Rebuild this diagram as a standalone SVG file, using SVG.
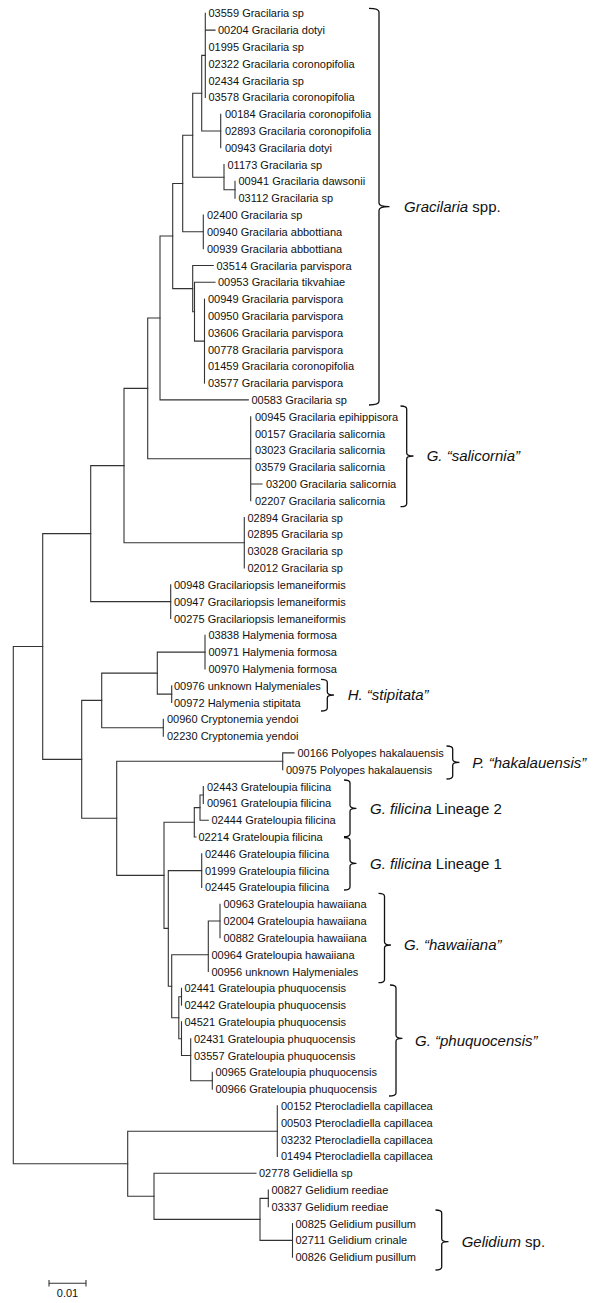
<svg xmlns="http://www.w3.org/2000/svg" width="600" height="1303" viewBox="0 0 600 1303">
<style>
.e{fill:none;stroke:#333;stroke-width:1.1;stroke-linecap:square}
.br{fill:none;stroke:#111;stroke-width:1.3;stroke-linejoin:round}
text{font-family:"Liberation Sans",Arial,sans-serif;fill:#111}
.t{font-size:11px}
.lab{font-size:15px}
.i{font-style:italic}
</style>
<rect width="600" height="1303" fill="#fff"/>
<g id="connectors" class="e">
<path d="M13.3 646.5V1163.8M13.3 646.5H42.7M13.3 1163.8H127.7"/>
<path d="M42.7 533.6V759.4M42.7 533.6H90.7M42.7 759.4H81.7"/>
<path d="M90.7 465.6V601.6M90.7 465.6H124M90.7 601.6H170.7"/>
<path d="M124 388.4V542.8M124 388.4H147.7M124 542.8H244.3"/>
<path d="M147.7 318V458.8M147.7 318H160M147.7 458.8H250.7"/>
<path d="M160 236V399.9M160 236H172.7M160 399.9H248.3"/>
<path d="M172.7 183.5V288.6M172.7 183.5H182.7M172.7 288.6H192.7"/>
<path d="M182.7 135.2V231.8M182.7 135.2H192.7M182.7 231.8H203.3"/>
<path d="M192.7 93.2V177.2M192.7 93.2H201.7M192.7 177.2H224"/>
<path d="M201.7 55.4V131M201.7 55.4H205.3M201.7 131H220.7"/>
<path d="M205.3 13.3V97.4M205.3 30.1H215"/>
<path d="M220.7 114.2V147.8"/>
<path d="M224 164.6V189.8M224 189.8H235"/>
<path d="M235 181.4V198.2"/>
<path d="M203.3 215V248.6"/>
<path d="M192.7 265.5V311.7M192.7 265.5H213.3M192.7 311.7H194.5"/>
<path d="M194.5 282.3V341.1M194.5 282.3H215M194.5 341.1H204.5"/>
<path d="M204.5 299.1V383.1"/>
<path d="M250.7 416.7V500.8M250.7 484H262"/>
<path d="M244.3 517.6V568"/>
<path d="M170.7 584.8V618.5"/>
<path d="M81.7 700.4V818.3M81.7 700.4H101.7M81.7 818.3H116.7"/>
<path d="M101.7 673.1V727.7M101.7 673.1H157.3M101.7 727.7H163.3"/>
<path d="M157.3 652.1V694.1M157.3 652.1H205M157.3 694.1H171.7"/>
<path d="M205 635.3V668.9"/>
<path d="M171.7 685.7V702.5"/>
<path d="M163.3 719.3V736.1"/>
<path d="M116.7 761.3V875.4M116.7 761.3H282.7M116.7 875.4H164"/>
<path d="M282.7 752.9V769.7M282.7 752.9H294"/>
<path d="M164 822.3V928.4M164 822.3H194.3M164 928.4H168.3"/>
<path d="M194.3 807.6V837M194.3 807.6H200M194.3 837H196"/>
<path d="M200 795V820.2M200 795H203.3M200 820.2H208.3"/>
<path d="M203.3 786.6V803.4"/>
<path d="M168.3 870.6V986.2M168.3 870.6H201.7M168.3 986.2H171.7"/>
<path d="M201.7 853.8V887.4"/>
<path d="M171.7 954.7V1017.7M171.7 954.7H208.3M171.7 1017.7H178.8"/>
<path d="M208.3 921V971.5M208.3 921H220"/>
<path d="M220 904.2V937.8"/>
<path d="M178.8 996.7V1038.7M178.8 996.7H181.5M178.8 1038.7H181.5"/>
<path d="M181.5 988.3V1005.1"/>
<path d="M181.5 1021.9V1055.5M181.5 1055.5H190.7"/>
<path d="M190.7 1038.7V1080.7M190.7 1080.7H212.3"/>
<path d="M212.3 1072.3V1089.1"/>
<path d="M127.7 1131.2V1196.3M127.7 1131.2H277.3M127.7 1196.3H154"/>
<path d="M277.3 1105.9V1156.4"/>
<path d="M154 1173.2V1219.4M154 1173.2H256M154 1219.4H260"/>
<path d="M260 1198.4V1240.4M260 1198.4H268.3M260 1240.4H292.5"/>
<path d="M268.3 1190V1206.8"/>
<path d="M292.5 1223.6V1257.2"/>
</g>
<g id="leaves" class="t">
<g id="n03559"><text x="208.5" y="17.3">03559 Gracilaria sp</text></g>
<g id="n00204"><text x="218" y="34.1">00204 Gracilaria dotyi</text></g>
<g id="n01995"><text x="208.5" y="50.9">01995 Gracilaria sp</text></g>
<g id="n02322"><text x="208.5" y="67.7">02322 Gracilaria coronopifolia</text></g>
<g id="n02434"><text x="208.5" y="84.5">02434 Gracilaria sp</text></g>
<g id="n03578"><text x="208.5" y="101.4">03578 Gracilaria coronopifolia</text></g>
<g id="n00184"><text x="225" y="118.2">00184 Gracilaria coronopifolia</text></g>
<g id="n02893"><text x="225" y="135">02893 Gracilaria coronopifolia</text></g>
<g id="n00943"><text x="225" y="151.8">00943 Gracilaria dotyi</text></g>
<g id="n01173"><text x="227.5" y="168.6">01173 Gracilaria sp</text></g>
<g id="n00941"><text x="238.5" y="185.4">00941 Gracilaria dawsonii</text></g>
<g id="n03112"><text x="238.5" y="202.2">03112 Gracilaria sp</text></g>
<g id="n02400"><text x="207" y="219">02400 Gracilaria sp</text></g>
<g id="n00940"><text x="207" y="235.8">00940 Gracilaria abbottiana</text></g>
<g id="n00939"><text x="207" y="252.6">00939 Gracilaria abbottiana</text></g>
<g id="n03514"><text x="216.5" y="269.5">03514 Gracilaria parvispora</text></g>
<g id="n00953"><text x="218" y="286.3">00953 Gracilaria tikvahiae</text></g>
<g id="n00949"><text x="208" y="303.1">00949 Gracilaria parvispora</text></g>
<g id="n00950"><text x="208" y="319.9">00950 Gracilaria parvispora</text></g>
<g id="n03606"><text x="208" y="336.7">03606 Gracilaria parvispora</text></g>
<g id="n00778"><text x="208" y="353.5">00778 Gracilaria parvispora</text></g>
<g id="n01459"><text x="208" y="370.3">01459 Gracilaria coronopifolia</text></g>
<g id="n03577"><text x="208" y="387.1">03577 Gracilaria parvispora</text></g>
<g id="n00583"><text x="251.5" y="403.9">00583 Gracilaria sp</text></g>
<g id="n00945"><text x="255" y="420.7">00945 Gracilaria epihippisora</text></g>
<g id="n00157"><text x="255" y="437.5">00157 Gracilaria salicornia</text></g>
<g id="n03023"><text x="255" y="454.4">03023 Gracilaria salicornia</text></g>
<g id="n03579"><text x="255" y="471.2">03579 Gracilaria salicornia</text></g>
<g id="n03200"><text x="266" y="488">03200 Gracilaria salicornia</text></g>
<g id="n02207"><text x="255" y="504.8">02207 Gracilaria salicornia</text></g>
<g id="n02894"><text x="247.5" y="521.6">02894 Gracilaria sp</text></g>
<g id="n02895"><text x="247.5" y="538.4">02895 Gracilaria sp</text></g>
<g id="n03028"><text x="247.5" y="555.2">03028 Gracilaria sp</text></g>
<g id="n02012"><text x="247.5" y="572">02012 Gracilaria sp</text></g>
<g id="n00948"><text x="174" y="588.8">00948 Gracilariopsis lemaneiformis</text></g>
<g id="n00947"><text x="174" y="605.6">00947 Gracilariopsis lemaneiformis</text></g>
<g id="n00275"><text x="174" y="622.5">00275 Gracilariopsis lemaneiformis</text></g>
<g id="n03838"><text x="208.5" y="639.3">03838 Halymenia formosa</text></g>
<g id="n00971"><text x="208.5" y="656.1">00971 Halymenia formosa</text></g>
<g id="n00970"><text x="208.5" y="672.9">00970 Halymenia formosa</text></g>
<g id="n00976"><text x="174" y="689.7">00976 unknown Halymeniales</text></g>
<g id="n00972"><text x="174" y="706.5">00972 Halymenia stipitata</text></g>
<g id="n00960"><text x="167" y="723.3">00960 Cryptonemia yendoi</text></g>
<g id="n02230"><text x="167" y="740.1">02230 Cryptonemia yendoi</text></g>
<g id="n00166"><text x="297.5" y="756.9">00166 Polyopes hakalauensis</text></g>
<g id="n00975"><text x="286" y="773.7">00975 Polyopes hakalauensis</text></g>
<g id="n02443"><text x="207" y="790.6">02443 Grateloupia filicina</text></g>
<g id="n00961"><text x="207" y="807.4">00961 Grateloupia filicina</text></g>
<g id="n02444"><text x="211.5" y="824.2">02444 Grateloupia filicina</text></g>
<g id="n02214"><text x="198.5" y="841">02214 Grateloupia filicina</text></g>
<g id="n02446"><text x="205" y="857.8">02446 Grateloupia filicina</text></g>
<g id="n01999"><text x="205" y="874.6">01999 Grateloupia filicina</text></g>
<g id="n02445"><text x="205" y="891.4">02445 Grateloupia filicina</text></g>
<g id="n00963"><text x="223.5" y="908.2">00963 Grateloupia hawaiiana</text></g>
<g id="n02004"><text x="223.5" y="925">02004 Grateloupia hawaiiana</text></g>
<g id="n00882"><text x="223.5" y="941.8">00882 Grateloupia hawaiiana</text></g>
<g id="n00964"><text x="211.5" y="958.7">00964 Grateloupia hawaiiana</text></g>
<g id="n00956"><text x="211.5" y="975.5">00956 unknown Halymeniales</text></g>
<g id="n02441"><text x="184.5" y="992.3">02441 Grateloupia phuquocensis</text></g>
<g id="n02442"><text x="184.5" y="1009.1">02442 Grateloupia phuquocensis</text></g>
<g id="n04521"><text x="184.5" y="1025.9">04521 Grateloupia phuquocensis</text></g>
<g id="n02431"><text x="194" y="1042.7">02431 Grateloupia phuquocensis</text></g>
<g id="n03557"><text x="194" y="1059.5">03557 Grateloupia phuquocensis</text></g>
<g id="n00965"><text x="215.5" y="1076.3">00965 Grateloupia phuquocensis</text></g>
<g id="n00966"><text x="215.5" y="1093.1">00966 Grateloupia phuquocensis</text></g>
<g id="n00152"><text x="281" y="1109.9">00152 Pterocladiella capillacea</text></g>
<g id="n00503"><text x="281" y="1126.8">00503 Pterocladiella capillacea</text></g>
<g id="n03232"><text x="281" y="1143.6">03232 Pterocladiella capillacea</text></g>
<g id="n01494"><text x="281" y="1160.4">01494 Pterocladiella capillacea</text></g>
<g id="n02778"><text x="259" y="1177.2">02778 Gelidiella sp</text></g>
<g id="n00827"><text x="271.5" y="1194">00827 Gelidium reediae</text></g>
<g id="n03337"><text x="271.5" y="1210.8">03337 Gelidium reediae</text></g>
<g id="n00825"><text x="295.5" y="1227.6">00825 Gelidium pusillum</text></g>
<g id="n02711"><text x="295.5" y="1244.4">02711 Gelidium crinale</text></g>
<g id="n00826"><text x="295.5" y="1261.2">00826 Gelidium pusillum</text></g>
</g>
<g id="clade-gracilaria">
<path class="br" d="M369 8.3Q379 8.3 379 12V203Q379 206.7 389 206.7Q379 206.7 379 210.4V401.3Q379 405 369 405"/>
<text class="lab" x="404" y="212.1"><tspan class="i">Gracilaria</tspan> spp.</text>
</g>
<g id="clade-salicornia">
<path class="br" d="M400.5 406Q406.7 406 406.7 409V453Q406.7 456 413 456Q406.7 456 406.7 459V503.7Q406.7 506.7 400.5 506.7"/>
<text class="lab i" x="426.7" y="461.4">G. “salicornia”</text>
</g>
<g id="clade-stipitata">
<path class="br" d="M321 679.3Q327.3 679.3 327.3 682.3V692Q327.3 695 333.5 695Q327.3 695 327.3 698V708Q327.3 711 321 711"/>
<text class="lab i" x="347.7" y="700.4">H. “stipitata”</text>
</g>
<g id="clade-hakalauensis">
<path class="br" d="M446.5 746Q452.7 746 452.7 749V759.3Q452.7 762.3 459 762.3Q452.7 762.3 452.7 765.3V776Q452.7 779 446.5 779"/>
<text class="lab i" x="472.3" y="767.7">P. “hakalauensis”</text>
</g>
<g id="clade-filicina2">
<path class="br" d="M344 780Q350 780 350 783V805.3Q350 808.3 356 808.3Q350 808.3 350 811.3V833.7Q350 836.7 344 836.7"/>
<text class="lab" x="370" y="813.7"><tspan class="i">G. filicina</tspan> Lineage 2</text>
</g>
<g id="clade-filicina1">
<path class="br" d="M344 837.5Q350 837.5 350 840.5V860.3Q350 863.3 356 863.3Q350 863.3 350 866.3V887Q350 890 344 890"/>
<text class="lab" x="370" y="868.7"><tspan class="i">G. filicina</tspan> Lineage 1</text>
</g>
<g id="clade-hawaiiana">
<path class="br" d="M378.5 893.3Q384.5 893.3 384.5 896.3V942Q384.5 945 390.5 945Q384.5 945 384.5 948V979.7Q384.5 982.7 378.5 982.7"/>
<text class="lab i" x="404" y="950.4">G. “hawaiiana”</text>
</g>
<g id="clade-phuquocensis">
<path class="br" d="M390 985Q396 985 396 988V1035.3Q396 1038.3 402 1038.3Q396 1038.3 396 1041.3V1093Q396 1096 389 1096"/>
<text class="lab i" x="415" y="1046">G. “phuquocensis”</text>
</g>
<g id="clade-gelidium">
<path class="br" d="M435.5 1210Q441.7 1210 441.7 1213V1238.7Q441.7 1241.7 448 1241.7Q441.7 1241.7 441.7 1244.7V1267Q441.7 1270 435.5 1270"/>
<text class="lab" x="461.7" y="1247.1"><tspan class="i">Gelidium</tspan> sp.</text>
</g>
<g id="scale">
<path class="e" d="M49 1283.3H86M49 1280.5V1286M86 1280.5V1286"/>
<text class="t" x="67.5" y="1296.6" text-anchor="middle">0.01</text>
</g>
</svg>
